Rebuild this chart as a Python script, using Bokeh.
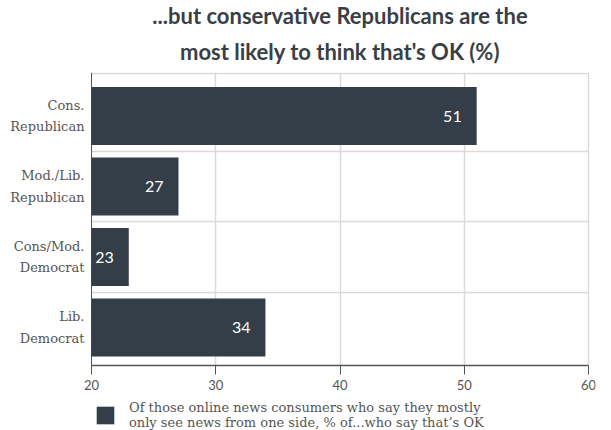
from bokeh.plotting import figure
from bokeh.models import Range1d, FixedTicker, ColumnDataSource, Legend, LegendItem, Title, Grid
from bokeh.core.properties import value
from bokeh.embed import file_html
from bokeh.resources import INLINE

categories = ["Cons.\nRepublican", "Mod./Lib.\nRepublican", "Cons/Mod.\nDemocrat", "Lib.\nDemocrat"]
values = [51, 27, 23, 34]
x_ticks = [20, 30, 40, 50, 60]
series_name = "Of those online news consumers who say they mostly\nonly see news from one side, % of...who say that\u2019s OK"
title_lines = ["...but conservative Republicans are the", "most likely to think that's OK (%)"]

n = len(categories)
ypos = [n - 1 - i for i in range(n)]          # category centres, top to bottom
src = ColumnDataSource(dict(y=ypos, v=values, lab=[str(v) for v in values], left=[x_ticks[0]] * n))

# layout in data units: band edges, room below the axis for the legend,
# and a little horizontal room so the end tick labels are not clipped
Y_TOP = n - 1 + 0.617
Y_AXIS = -0.539
Y_BOTTOM = -1.489
X_PAD = 0.563

BAR = "#343e48"
TXT = "#555555"
TITLE = "#3a3f46"
AXIS = "#555555"
GRID = "#d9d9d9"

p = figure(frame_width=511, frame_height=360, output_backend="svg", toolbar_location=None,
           x_range=Range1d(x_ticks[0] - X_PAD, x_ticks[-1] + X_PAD), y_range=Range1d(Y_BOTTOM, Y_TOP),
           min_border_left=84, min_border_right=16, min_border_top=70, min_border_bottom=0)
p.outline_line_color = None

r = p.hbar(y="y", left="left", right="v", height=0.823, source=src, fill_color=BAR, line_color=None)
p.text(x="v", y="y", text="lab", source=src, x_offset=-15, text_align="right", text_baseline="middle",
       text_color="white", text_font=value("Lato"), text_font_size="16px")

# two centred title lines
p.title.text = title_lines[0]
p.title.align = "center"
p.title.text_font = "Lato"
p.title.text_font_style = "bold"
p.title.text_font_size = "22px"
p.title.text_color = TITLE
p.title.standoff = -2
t2 = Title(text=title_lines[1], align="center", text_font="Lato", text_font_style="bold",
           text_font_size="22px", text_color=TITLE, standoff=16)
p.add_layout(t2, "above")

# y axis (labels only; its line is drawn as a grid line at the baseline value)
p.yaxis.ticker = FixedTicker(ticks=ypos)
p.yaxis.major_label_overrides = {y: c for y, c in zip(ypos, categories)}
p.yaxis.major_label_text_font = "DejaVu Serif"
p.yaxis.major_label_text_font_size = "13px"
p.yaxis.major_label_text_color = TXT
p.yaxis.major_label_text_line_height = 1.45
p.yaxis.major_tick_line_color = None
p.yaxis.major_tick_out = 0
p.yaxis.major_tick_in = 0
p.yaxis.minor_tick_line_color = None
p.yaxis.axis_line_color = None
p.yaxis.major_label_standoff = 0
p.yaxis.bounds = (Y_AXIS, Y_TOP)

# x axis
p.xaxis.fixed_location = Y_AXIS
p.xaxis.bounds = (x_ticks[0], x_ticks[-1])
p.xaxis.ticker = FixedTicker(ticks=x_ticks)
p.xaxis.major_label_text_font = "Lato"
p.xaxis.major_label_text_font_size = "13px"
p.xaxis.major_label_text_color = TXT
p.xaxis.axis_line_color = AXIS
p.xaxis.axis_line_width = 1.5
p.xaxis.major_tick_line_color = AXIS
p.xaxis.major_tick_in = 0
p.xaxis.major_tick_out = 9
p.xaxis.minor_tick_line_color = None
p.xaxis.major_label_standoff = 5

# grids
p.xgrid.ticker = FixedTicker(ticks=x_ticks[1:])
p.xgrid.grid_line_color = GRID
p.xgrid.grid_line_width = 1.5
p.xgrid.cross_bounds = (Y_AXIS, Y_TOP)
p.ygrid.ticker = FixedTicker(ticks=[0.5, 1.5, 2.5, Y_TOP - 0.01])
p.ygrid.grid_line_color = GRID
p.ygrid.grid_line_width = 1.5
p.ygrid.cross_bounds = (x_ticks[0], x_ticks[-1])
base = Grid(dimension=0, ticker=FixedTicker(ticks=[x_ticks[0]]), grid_line_color=AXIS,
            grid_line_width=1, cross_bounds=(Y_AXIS, Y_TOP))
p.add_layout(base)

legend = Legend(items=[LegendItem(label=series_name, renderers=[r])], location=(10, 2),
                orientation="vertical", glyph_width=22, glyph_height=22, label_standoff=13,
                label_text_font="DejaVu Serif", label_text_font_size="13px", label_text_color=TXT,
                label_text_line_height=1.15, border_line_color=None, background_fill_alpha=0,
                padding=0, margin=0, spacing=0)
p.add_layout(legend, "center")

open("out.html", "w").write(file_html(p, INLINE))
